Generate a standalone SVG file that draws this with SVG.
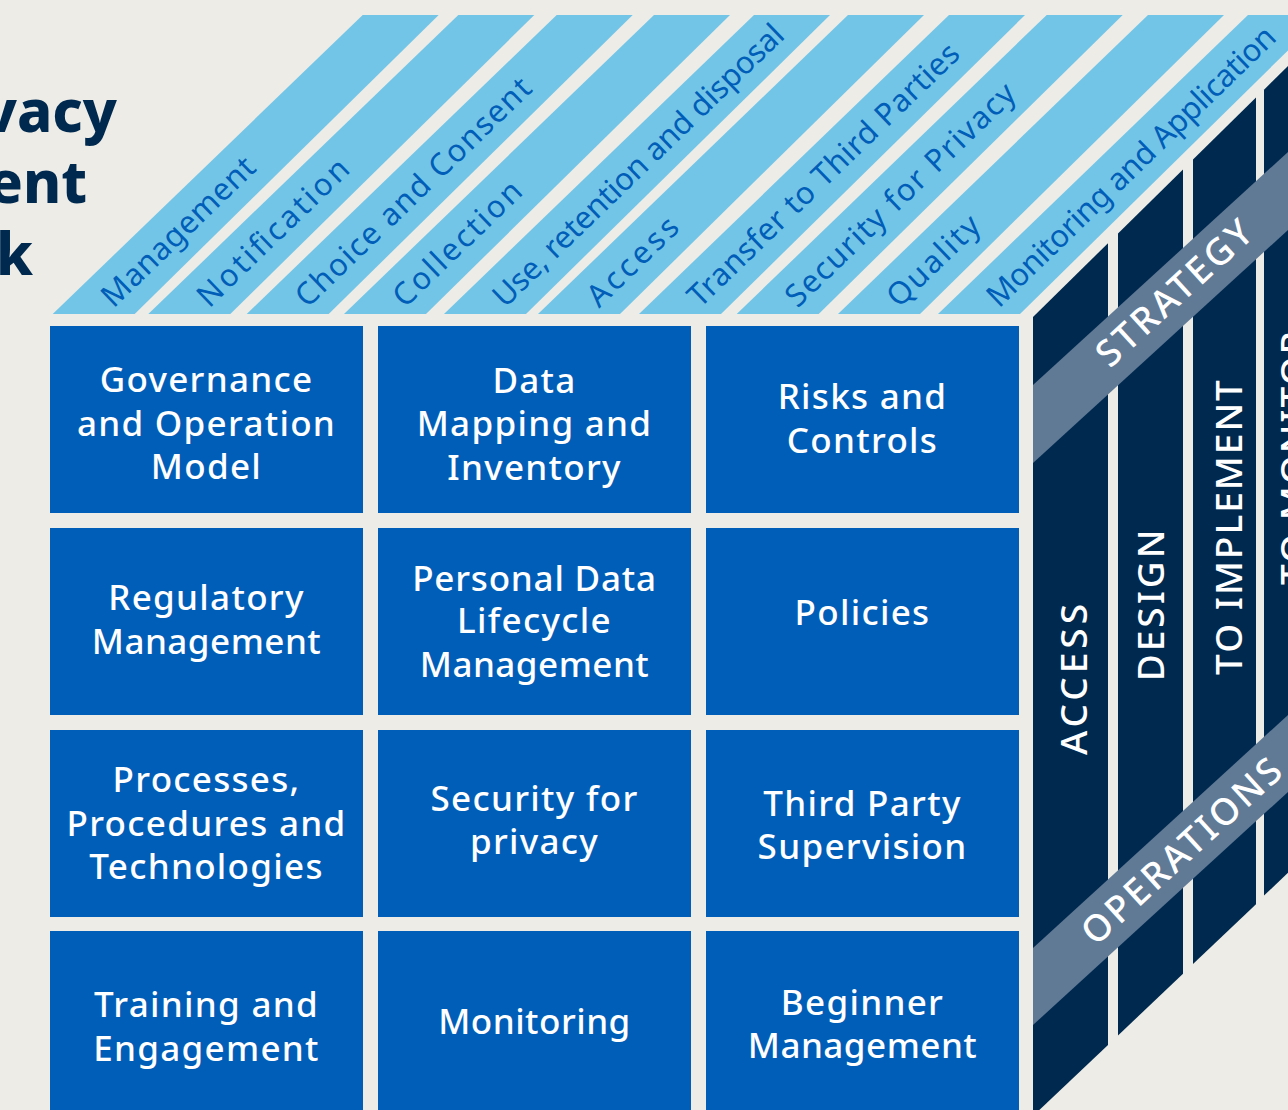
<svg xmlns="http://www.w3.org/2000/svg" width="1288" height="1110" viewBox="0 0 1288 1110">
  <style>
    .bg { fill: #EDECE6; }
    .strip { fill: #73C5E8; }
    .stxt { font-family: "Noto Sans", "Open Sans", sans-serif; font-size: 31px; font-weight: 400; fill: #005EB8; }
    .box { fill: #005EB8; }
    .btxt { font-family: "Noto Sans", "Open Sans", sans-serif; font-size: 35px; font-weight: 500; fill: #FFFFFF; text-anchor: middle; letter-spacing: 1.3px; }
    .tight { letter-spacing: 0.5px; }
    .col { fill: #00294F; }
    .band { fill: #607A96; }
    .vtxt { font-family: "Noto Sans", "Open Sans", sans-serif; font-size: 37px; font-weight: 500; fill: #FFFFFF; letter-spacing: 3px; }
    .title { font-family: "Noto Sans", "Open Sans", sans-serif; font-size: 58px; font-weight: 800; fill: #00294F; text-anchor: end; }
  </style>
  <rect class="bg" x="0" y="0" width="1288" height="1110"/>

  <g id="title">
    <text class="title"><tspan x="117" y="132">vacy</tspan><tspan x="87" y="203">ent</tspan><tspan x="33" y="275">k</tspan></text>
  </g>

  <g id="top-face">
    <g id="strip-1"><polygon class="strip" points="52.7,314 134.7,314 438.7,15 362.7,15"/><text class="stxt" transform="translate(93.7,314) rotate(-44)" x="18" y="10" textLength="200" lengthAdjust="spacing">Management</text></g>
    <g id="strip-2"><polygon class="strip" points="148.3,314 230.3,314 534.3,15 458.3,15"/><text class="stxt" transform="translate(189.3,314) rotate(-44)" x="18" y="10" textLength="198" lengthAdjust="spacing">Notification</text></g>
    <g id="strip-3"><polygon class="strip" points="246.7,314 328.7,314 632.7,15 556.7,15"/><text class="stxt" transform="translate(287.7,314) rotate(-44)" x="18" y="10" textLength="314" lengthAdjust="spacing">Choice and Consent</text></g>
    <g id="strip-4"><polygon class="strip" points="344,314 426,314 730,15 654,15"/><text class="stxt" transform="translate(385,314) rotate(-44)" x="18" y="10" textLength="166" lengthAdjust="spacing">Collection</text></g>
    <g id="strip-5"><polygon class="strip" points="444,314 526,314 830,15 754,15"/><text class="stxt" transform="translate(485,314) rotate(-44)" x="18" y="10" textLength="391" lengthAdjust="spacing">Use, retention and disposal</text></g>
    <g id="strip-6"><polygon class="strip" points="538,314 620,314 924,15 848,15"/><text class="stxt" transform="translate(579,314) rotate(-44)" x="18" y="10" textLength="114" lengthAdjust="spacing">Access</text></g>
    <g id="strip-7"><polygon class="strip" points="639,314 721,314 1025,15 949,15"/><text class="stxt" transform="translate(680,314) rotate(-44)" x="18" y="10" textLength="364" lengthAdjust="spacing">Transfer to Third Parties</text></g>
    <g id="strip-8"><polygon class="strip" points="736.7,314 818.7,314 1122.7,15 1046.7,15"/><text class="stxt" transform="translate(777.7,314) rotate(-44)" x="18" y="10" textLength="306" lengthAdjust="spacing">Security for Privacy</text></g>
    <g id="strip-9"><polygon class="strip" points="838,314 920,314 1224,15 1148,15"/><text class="stxt" transform="translate(879,314) rotate(-44)" x="18" y="10" textLength="116" lengthAdjust="spacing">Quality</text></g>
    <g id="strip-10"><polygon class="strip" points="938,314 1020,314 1288,50.4 1288,15 1248,15"/><text class="stxt" transform="translate(979,314) rotate(-44)" x="18" y="10" textLength="388" lengthAdjust="spacing">Monitoring and Application</text></g>
  </g>

  <g id="side-face">
    <g id="col-access"><polygon class="col" points="1033,317 1108,243.2 1108,1045 1033,1116"/></g>
    <g id="col-design"><polygon class="col" points="1118,233.4 1183,169.4 1183,973.8 1118,1035.5"/></g>
    <g id="col-implement"><polygon class="col" points="1193,159.6 1256,97.6 1256,904.2 1193,964"/></g>
    <g id="col-monitor"><polygon class="col" points="1264,89.7 1288,66 1288,872.8 1264,895.6"/></g>
    <g id="band-strategy"><polygon class="band" points="1033,385 1288,152 1288,230 1033,463"/>
      <text class="vtxt" transform="translate(1175,292) rotate(-42.4)" x="0" y="13" text-anchor="middle">STRATEGY</text></g>
    <g id="band-operations"><polygon class="band" points="1033,948 1288,715 1288,792 1033,1025"/>
      <text class="vtxt" transform="translate(1182.5,850) rotate(-42.4)" x="0" y="13" text-anchor="middle">OPERATIONS</text></g>
    <text class="vtxt" transform="translate(1087,677.5) rotate(-90)" x="0" y="0" text-anchor="middle" style="letter-spacing:4px">ACCESS</text>
    <text class="vtxt" transform="translate(1164,604) rotate(-90)" x="0" y="0" text-anchor="middle">DESIGN</text>
    <text class="vtxt" transform="translate(1242,526.5) rotate(-90)" x="0" y="0" text-anchor="middle" style="letter-spacing:2px">TO IMPLEMENT</text>
    <text class="vtxt" transform="translate(1307,585) rotate(-90)" x="0" y="0" text-anchor="start" style="letter-spacing:2px">TO MONITOR</text>
  </g>

  <g id="front-face">
    <g id="box-governance"><rect class="box" x="50" y="326" width="313" height="187"/>
      <text class="btxt" x="206.5" y="392">Governance</text><text class="btxt" x="206.5" y="435.5">and Operation</text><text class="btxt" x="206.5" y="479">Model</text></g>
    <g id="box-data-mapping"><rect class="box" x="378" y="326" width="313" height="187"/>
      <text class="btxt" x="534.5" y="392.5">Data</text><text class="btxt" x="534.5" y="435.5">Mapping and</text><text class="btxt" x="534.5" y="479.5">Inventory</text></g>
    <g id="box-risks"><rect class="box" x="706" y="326" width="313" height="187"/>
      <text class="btxt" x="862.5" y="408.5">Risks and</text><text class="btxt" x="862.5" y="452.5">Controls</text></g>

    <g id="box-regulatory"><rect class="box" x="50" y="528" width="313" height="187"/>
      <text class="btxt" x="206.5" y="609.5">Regulatory</text><text class="btxt tight" x="206.5" y="653.5">Management</text></g>
    <g id="box-lifecycle"><rect class="box" x="378" y="528" width="313" height="187"/>
      <text class="btxt" x="534.5" y="590.7" style="letter-spacing:0.8px">Personal Data</text><text class="btxt" x="534.5" y="633.3">Lifecycle</text><text class="btxt tight" x="534.5" y="676.7">Management</text></g>
    <g id="box-policies"><rect class="box" x="706" y="528" width="313" height="187"/>
      <text class="btxt" x="862.5" y="625">Policies</text></g>

    <g id="box-processes"><rect class="box" x="50" y="730" width="313" height="187"/>
      <text class="btxt" x="206.5" y="792">Processes,</text><text class="btxt" x="206.5" y="835.5">Procedures and</text><text class="btxt" x="206.5" y="879">Technologies</text></g>
    <g id="box-security"><rect class="box" x="378" y="730" width="313" height="187"/>
      <text class="btxt" x="534.5" y="810.5">Security for</text><text class="btxt" x="534.5" y="854">privacy</text></g>
    <g id="box-third-party"><rect class="box" x="706" y="730" width="313" height="187"/>
      <text class="btxt" x="862.5" y="815.5">Third Party</text><text class="btxt" x="862.5" y="858.5">Supervision</text></g>

    <g id="box-training"><rect class="box" x="50" y="931" width="313" height="187"/>
      <text class="btxt" x="206.5" y="1016.5">Training and</text><text class="btxt" x="206.5" y="1060.5">Engagement</text></g>
    <g id="box-monitoring"><rect class="box" x="378" y="931" width="313" height="187"/>
      <text class="btxt tight" x="534.5" y="1033.5">Monitoring</text></g>
    <g id="box-beginner"><rect class="box" x="706" y="931" width="313" height="187"/>
      <text class="btxt" x="862.5" y="1015">Beginner</text><text class="btxt tight" x="862.5" y="1058">Management</text></g>
  </g>

  <g id="connectors"></g>
</svg>
